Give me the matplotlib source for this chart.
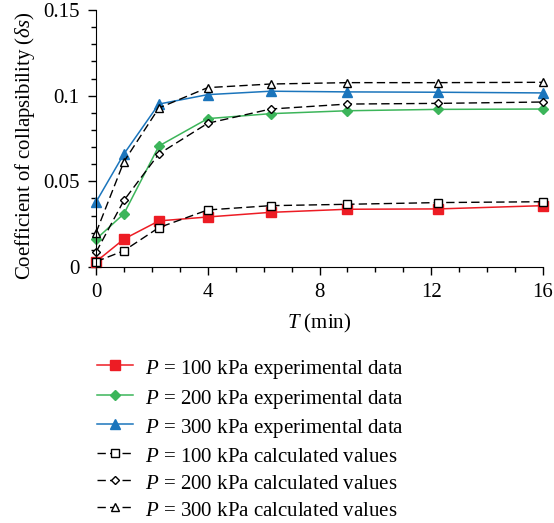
import numpy as np
import matplotlib
matplotlib.use("Agg")
import matplotlib.pyplot as plt
from matplotlib.ticker import MultipleLocator, FixedLocator, FixedFormatter

plt.rcParams['font.family'] = 'Liberation Serif'
plt.rcParams['mathtext.fontset'] = 'custom'
plt.rcParams['mathtext.rm'] = 'Liberation Serif'
plt.rcParams['mathtext.it'] = 'Liberation Serif:italic'

# Time points (min)
t = [0, 1, 2.25, 4, 6.25, 9, 12.25, 16]

# Experimental data
exp100 = [0.0031, 0.0163, 0.0269, 0.0292, 0.0319, 0.0337, 0.0339, 0.0358]
exp200 = [0.0162, 0.0311, 0.0706, 0.0866, 0.0895, 0.0912, 0.0920, 0.0922]
exp300 = [0.0379, 0.0660, 0.0951, 0.1006, 0.1026, 0.1022, 0.1020, 0.1016]

# Calculated values
calc100 = [0.0031, 0.0095, 0.0230, 0.0333, 0.0358, 0.0366, 0.0376, 0.0381]
calc200 = [0.0086, 0.0389, 0.0660, 0.0839, 0.0922, 0.0951, 0.0955, 0.0963]
calc300 = [0.0200, 0.0615, 0.0928, 0.1047, 0.1068, 0.1076, 0.1076, 0.1078]

red = '#ed1c24'
green = '#3cb55a'
blue = '#1b75bc'
fs = 15

fig = plt.figure(figsize=(5.54, 5.23), dpi=100)
ax = fig.add_axes([96 / 554, 1 - 267 / 523, (543 - 96) / 554, (267 - 10) / 523])

ax.plot(t, exp100, '-', color=red, marker='s', ms=6.5, lw=1.1,
        label=r'$P$ = 100 kPa experimental data')
ax.plot(t, exp200, '-', color=green, marker='D', ms=5, lw=1.1,
        label=r'$P$ = 200 kPa experimental data')
ax.plot(t, exp300, '-', color=blue, marker='^', ms=7, lw=1.1,
        label=r'$P$ = 300 kPa experimental data')
ax.plot(t, calc100, '--', color='black', marker='s', ms=5.5, mfc='white',
        mec='black', mew=1.0, lw=1.0, dashes=(6, 3),
        label=r'$P$ = 100 kPa calculated values')
ax.plot(t, calc200, '--', color='black', marker='D', ms=4.5, mfc='white',
        mec='black', mew=1.0, lw=1.0, dashes=(6, 3),
        label=r'$P$ = 200 kPa calculated values')
ax.plot(t, calc300, '--', color='black', marker='^', ms=6, mfc='white',
        mec='black', mew=1.0, lw=1.0, dashes=(6, 3),
        label=r'$P$ = 300 kPa calculated values')

ax.set_xlim(0, 16)
ax.set_ylim(0, 0.15)
ax.spines['top'].set_visible(False)
ax.spines['right'].set_visible(False)
ax.xaxis.set_major_locator(MultipleLocator(4))
ax.xaxis.set_minor_locator(MultipleLocator(1))
ax.yaxis.set_major_locator(FixedLocator([0, 0.05, 0.1, 0.15]))
ax.yaxis.set_major_formatter(FixedFormatter(['0', '0.05', '0.1', '0.15']))
ax.yaxis.set_minor_locator(MultipleLocator(0.01))
ax.tick_params(which='major', length=5.8, width=1, labelsize=fs, pad=6,
               direction='out')
ax.tick_params(which='minor', length=3.6, width=1, direction='out')
for ln in ax.lines:
    ln.set_clip_on(False)

ax.set_xlabel(r'$T$ (min)', fontsize=fs)
ax.xaxis.set_label_coords(0.5, (267 - 312) / 257)
ax.set_ylabel(r'Coefficient of collapsibility ($\delta s$)', fontsize=fs)
ax.yaxis.set_label_coords(-(96 - 37) / 447, (267 - 146) / 257)

fig.legend(loc='upper left', bbox_to_anchor=(89 / 554, 1 - 348 / 523),
           frameon=False, fontsize=fs, handlelength=1.7, handletextpad=0.6,
           handleheight=1.25, labelspacing=0.2, borderaxespad=0)

fig.savefig('out.png', dpi=100)
